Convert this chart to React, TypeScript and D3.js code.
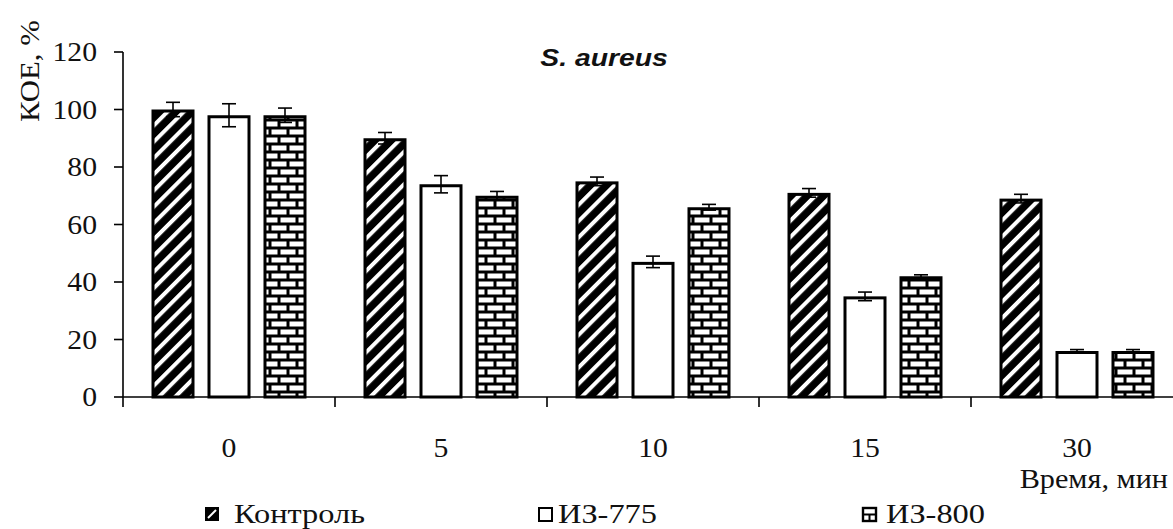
import React from "react";
import * as d3 from "d3";

const categories = ["0", "5", "10", "15", "30"];
const seriesNames = ["Контроль", "ИЗ-775", "ИЗ-800"];
const kontrol = [100, 90, 75, 71, 69];
const iz775 = [98, 74, 47, 35, 16];
const iz800 = [98, 70, 66, 42, 16];
const kontrolErr = [2.5, 2, 1.5, 1.5, 1.5];
const iz775Err = [4, 3, 2, 1.5, 0.5];
const iz800Err = [2.5, 1.5, 1, 0.5, 0.5];
const yTicks = [0, 20, 40, 60, 80, 100, 120];

const W = 1173;
const H = 529;
const M = { left: 123, top: 52, bottom: 397 };
const catWidth = 212;
const serif = "'Liberation Serif', 'Times New Roman', serif";

function T(props: {
  x: number;
  y: number;
  anchor?: string;
  size?: number;
  sx?: number;
  rotate?: number;
  children: React.ReactNode;
  family?: string;
  weight?: string;
  italic?: boolean;
}) {
  const { x, y, anchor = "start", size = 27, sx = 1.16, rotate = 0, children } = props;
  return (
    <text
      transform={`translate(${x},${y}) rotate(${rotate}) scale(${sx},1)`}
      textAnchor={anchor}
      fontFamily={props.family || serif}
      fontWeight={props.weight || "normal"}
      fontStyle={props.italic ? "italic" : "normal"}
      fontSize={size}
      fill="#111"
    >
      {children}
    </text>
  );
}

export default function App() {
  const values = [kontrol, iz775, iz800];
  const errs = [kontrolErr, iz775Err, iz800Err];
  const y = d3.scaleLinear().domain([0, 120]).range([M.bottom, M.top]);
  const x = d3
    .scaleBand<string>()
    .domain(categories)
    .range([M.left, M.left + catWidth * categories.length])
    .paddingInner(0)
    .paddingOuter(0);
  const xs = d3
    .scaleBand<string>()
    .domain(seriesNames)
    .range([0, x.bandwidth()])
    .paddingInner(0.232)
    .paddingOuter(0.509);
  const fills = ["url(#stripes)", "#fff", "url(#bricks)"];
  const sw = 3;
  const bw = xs.bandwidth();

  const legendX = [205, 538, 862];

  return (
    <svg
      width={W}
      height={H}
      style={{ position: "absolute", left: 0, top: 0, background: "#fff" }}
    >
      <defs>
        <pattern
          id="stripes"
          patternUnits="userSpaceOnUse"
          width={11.5}
          height={11.5}
          patternTransform="rotate(45)"
        >
          <rect width={11.5} height={11.5} fill="#000" />
          <rect x={0} y={0} width={4} height={11.5} fill="#fff" />
        </pattern>
        <pattern id="bricks" patternUnits="userSpaceOnUse" width={18} height={16}>
          <rect width={18} height={16} fill="#000" />
          <rect x={1.5} y={1.5} width={15} height={5} fill="#fff" />
          <rect x={-7.5} y={9.5} width={15} height={5} fill="#fff" />
          <rect x={10.5} y={9.5} width={15} height={5} fill="#fff" />
        </pattern>
      </defs>

      {/* bars */}
      {categories.map((c, ci) =>
        seriesNames.map((s, si) => {
          const v = values[si][ci];
          const x0 = (x(c) as number) + (xs(s) as number);
          const top = y(v);
          return (
            <rect
              key={c + s}
              x={x0 + sw / 2}
              y={top + sw / 2}
              width={bw - sw}
              height={M.bottom - top - sw / 2}
              fill={fills[si]}
              stroke="#000"
              strokeWidth={sw}
            />
          );
        })
      )}

      {/* error bars */}
      {categories.map((c, ci) =>
        seriesNames.map((s, si) => {
          const v = values[si][ci];
          const e = errs[si][ci];
          const cx = (x(c) as number) + (xs(s) as number) + bw / 2;
          const y1 = y(v + e);
          const y2 = y(v - e);
          return (
            <g key={"e" + c + s} stroke="#000" strokeWidth={1.6}>
              <line x1={cx} x2={cx} y1={y1} y2={y2} />
              <line x1={cx - 7} x2={cx + 7} y1={y1} y2={y1} />
              <line x1={cx - 7} x2={cx + 7} y1={y2} y2={y2} />
            </g>
          );
        })
      )}

      {/* y axis */}
      <line x1={M.left} x2={M.left} y1={M.top} y2={M.bottom} stroke="#000" strokeWidth={1.6} />
      {yTicks.map((t) => (
        <g key={"yt" + t}>
          <line x1={M.left - 9} x2={M.left} y1={y(t)} y2={y(t)} stroke="#000" strokeWidth={1.6} />
          <T x={97} y={y(t) + 9} anchor="end" sx={1.1}>
            {t}
          </T>
        </g>
      ))}

      {/* x axis */}
      <line
        x1={M.left}
        x2={M.left + catWidth * categories.length}
        y1={M.bottom}
        y2={M.bottom}
        stroke="#000"
        strokeWidth={1.6}
      />
      <line x1={M.left} x2={M.left} y1={M.bottom} y2={M.bottom + 10} stroke="#000" strokeWidth={1.6} />
      {categories.map((c) => (
        <g key={"xt" + c}>
          <line
            x1={(x(c) as number) + catWidth}
            x2={(x(c) as number) + catWidth}
            y1={M.bottom}
            y2={M.bottom + 10}
            stroke="#000"
            strokeWidth={1.6}
          />
          <T x={(x(c) as number) + x.bandwidth() / 2} y={457} anchor="middle" sx={1.1}>
            {c}
          </T>
        </g>
      ))}

      {/* axis titles */}
      <T x={1168} y={488} anchor="end" sx={1.12}>
        Время, мин
      </T>
      <T x={39} y={122} rotate={-90} sx={1.14}>
        КОЕ, %
      </T>

      {/* chart title */}
      <T
        x={604}
        y={66}
        anchor="middle"
        size={24}
        sx={1.18}
        family="'Liberation Sans', Arial, sans-serif"
        weight="bold"
        italic
      >
        S. aureus
      </T>

      {/* legend */}
      {/* Контроль swatch: black with white diagonal */}
      <g>
        <rect x={legendX[0]} y={507} width={14} height={14} fill="#000" />
        <line x1={legendX[0] + 3} y1={518} x2={legendX[0] + 11} y2={510} stroke="#fff" strokeWidth={2} />
        <T x={legendX[0] + 29} y={523} sx={1.2}>
          {seriesNames[0]}
        </T>
      </g>
      <g>
        <rect x={legendX[1] + 1} y={508} width={13} height={13} fill="#fff" stroke="#000" strokeWidth={2} />
        <T x={legendX[1] + 20} y={523} sx={1.2}>
          {seriesNames[1]}
        </T>
      </g>
      <g>
        <rect x={legendX[2] + 1} y={508} width={13} height={13} fill="#fff" stroke="#000" strokeWidth={2.4} />
        <line x1={legendX[2] + 1} x2={legendX[2] + 14} y1={514.5} y2={514.5} stroke="#000" strokeWidth={2} />
        <line x1={legendX[2] + 7.5} x2={legendX[2] + 7.5} y1={514.5} y2={521} stroke="#000" strokeWidth={2} />
        <T x={legendX[2] + 24} y={523} sx={1.2}>
          {seriesNames[2]}
        </T>
      </g>
    </svg>
  );
}
